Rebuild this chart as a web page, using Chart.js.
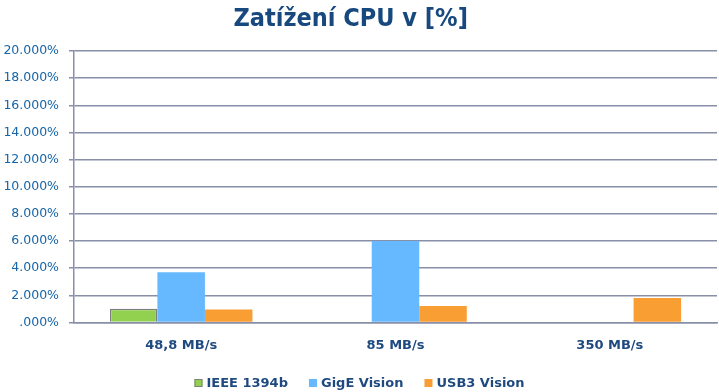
<!DOCTYPE html>
<html>
<head>
<meta charset="utf-8">
<script src="https://cdn.jsdelivr.net/npm/chart.js"></script>
<style>
  html, body { margin: 0; padding: 0; background: #fff; }
  .container { width: 719px; height: 392px; position: relative; }
</style>
</head>
<body>
<div class="container"><canvas id="myChart"></canvas></div>
<script>
// chart values
const categories = ["48,8 MB/s", "85 MB/s", "350 MB/s"];
const ieee1394b = [1.0, null, null];
const gigeVision = [3.7, 6.0, null];
const usb3Vision = [0.95, 1.2, 1.8];
const yTicks = [0, 2, 4, 6, 8, 10, 12, 14, 16, 18, 20];

const axisColor = "#8790a8";
const textBlue = "#1f4a80";

function formatTick(v) {
  // 0 is shown as ".000%" like the original
  if (v === 0) return ".000%";
  return v.toFixed(3) + "%";
}

// small legend drawn under the x labels
const bottomLegendPlugin = {
  id: "bottomLegend",
  afterDraw(chart) {
    const c = chart.ctx;
    const items = chart.data.datasets;
    const box = 8;
    const gap = 4;
    const spacing = 21;
    c.save();
    c.font = "bold 13px 'DejaVu Sans'";
    c.textBaseline = "middle";
    const widths = items.map((ds) => box + gap + c.measureText(ds.label).width);
    const total = widths.reduce((a, b) => a + b, 0) + spacing * (items.length - 1);
    let x = chart.width / 2 - total / 2;
    const y = chart.height - 9;
    items.forEach((ds, i) => {
      c.fillStyle = ds.backgroundColor;
      c.fillRect(x, y - box / 2, box, box);
      if (ds.borderWidth) {
        c.strokeStyle = ds.borderColor;
        c.lineWidth = 1;
        c.strokeRect(x + 0.5, y - box / 2 + 0.5, box - 1, box - 1);
      }
      c.fillStyle = textBlue;
      c.fillText(ds.label, x + box + gap, y + 1);
      x += widths[i] + spacing;
    });
    c.restore();
  },
};

const ctx = document.getElementById("myChart");
new Chart(ctx, {
  type: "bar",
  data: {
    labels: categories,
    datasets: [
      {
        label: "IEEE 1394b",
        data: ieee1394b,
        backgroundColor: "#92d050",
        borderColor: "#7f7f7f",
        borderWidth: 1.5,
      },
      {
        label: "GigE Vision",
        data: gigeVision,
        backgroundColor: "#66b8ff",
        borderWidth: 0,
      },
      {
        label: "USB3 Vision",
        data: usb3Vision,
        backgroundColor: "#f99e33",
        borderWidth: 0,
      },
    ],
  },
  plugins: [bottomLegendPlugin],
  options: {
    responsive: true,
    maintainAspectRatio: false,
    animation: false,
    skipNull: false,
    datasets: {
      bar: { barPercentage: 1.0, categoryPercentage: 0.665 },
    },
    layout: { padding: { top: 4, right: 2, left: 0, bottom: 24 } },
    plugins: {
      title: {
        display: true,
        text: "Zatížení CPU v [%]  ",
        color: "#17487e",
        font: { family: "'DejaVu Sans Condensed', 'DejaVu Sans'", size: 25, weight: "bold" },
        padding: { top: 0, bottom: 17 },
      },
      legend: { display: false },
      tooltip: { enabled: false },
    },
    scales: {
      x: {
        grid: { display: false, drawTicks: false },
        border: { color: axisColor, width: 1.5 },
        ticks: {
          color: textBlue,
          padding: 15,
          font: { family: "'DejaVu Sans'", size: 13, weight: "bold" },
        },
      },
      y: {
        min: 0,
        max: 20,
        afterBuildTicks: (axis) => {
          axis.ticks = yTicks.map((v) => ({ value: v }));
        },
        afterFit: (scale) => {
          scale.width = 74;
        },
        grid: { color: axisColor, lineWidth: 1.5, tickLength: 5 },
        border: { color: axisColor, width: 1.5 },
        ticks: {
          color: "#1565a8",
          padding: 10,
          font: { family: "'DejaVu Sans'", size: 12.5 },
          callback: (v) => formatTick(v),
        },
      },
    },
  },
});
</script>
</body>
</html>
